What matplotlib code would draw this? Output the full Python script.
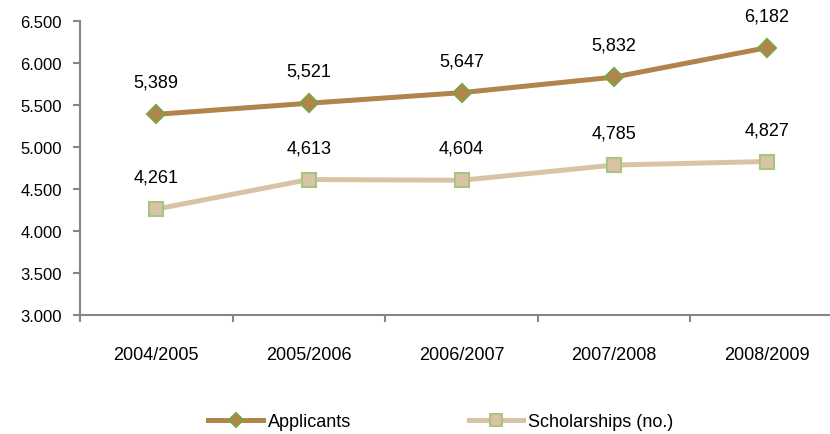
import matplotlib.pyplot as plt
import numpy as np

plt.rcParams['font.family'] = ['Liberation Sans', 'DejaVu Sans']

years = ['2004/2005', '2005/2006', '2006/2007', '2007/2008', '2008/2009']
applicants = [5389, 5521, 5647, 5832, 6182]
scholarships = [4261, 4613, 4604, 4785, 4827]
yticks = [3000, 3500, 4000, 4500, 5000, 5500, 6000, 6500]

fig = plt.figure(figsize=(8.3, 4.35), dpi=100)
ax = fig.add_axes([80 / 830, 1 - 316 / 435, 763 / 830, 294 / 435])

x = np.arange(len(years))
ax.plot(x, applicants, '-', color='#B0844A', linewidth=3.6, marker='D',
        markersize=9, markerfacecolor='#B0844A', markeredgecolor='#7FA244',
        markeredgewidth=1.5, label='Applicants')
ax.plot(x, scholarships, '-', color='#D9C3A6', linewidth=3.6, marker='s',
        markersize=10, markerfacecolor='#D9C3A6', markeredgecolor='#A8C47E',
        markeredgewidth=1.5, label='Scholarships (no.)')

# value labels above the points
for xi, v in zip(x, applicants):
    ax.annotate(f'{v:,}', (xi, v), xytext=(0, 23), textcoords='offset points',
                ha='center', va='center', fontsize=13)
for xi, v in zip(x, scholarships):
    ax.annotate(f'{v:,}', (xi, v), xytext=(0, 23), textcoords='offset points',
                ha='center', va='center', fontsize=13)

ax.set_xlim(-0.5, 4.5)
ax.set_ylim(3000, 6500)
ax.set_yticks(yticks)
ax.set_yticklabels([f'{t:,}'.replace(',', '.') for t in yticks], fontsize=12)
ax.set_xticks(x)
ax.set_xticklabels(years, fontsize=13)
ax.set_xticks(np.arange(-0.5, 5, 1), minor=True)
ax.tick_params(axis='x', which='major', length=0, pad=22)
ax.tick_params(axis='x', which='minor', length=5, width=1.5, color='#868686')
ax.tick_params(axis='y', length=5, width=1.5, color='#868686', pad=8)

for s in ['top', 'right']:
    ax.spines[s].set_visible(False)
for s in ['left', 'bottom']:
    ax.spines[s].set_color('#868686')
    ax.spines[s].set_linewidth(1.5)

fig.legend(loc='center', bbox_to_anchor=(441 / 830, 1 - 423 / 435), ncol=2,
           frameon=False, fontsize=13, handlelength=3.0, handletextpad=0.3,
           columnspacing=6.5, markerscale=0.8)

fig.savefig('out.png', dpi=100)
